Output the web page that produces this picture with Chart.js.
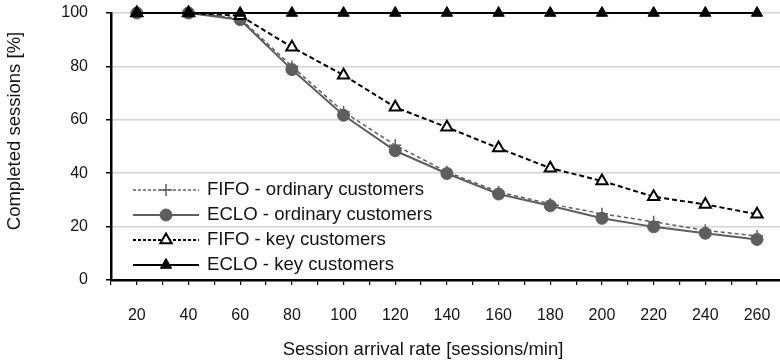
<!DOCTYPE html>
<html>
<head>
<meta charset="utf-8">
<script src="https://cdn.jsdelivr.net/npm/chart.js@4/dist/chart.umd.min.js"></script>
<style>
  html, body { margin: 0; padding: 0; background: #fff; }
  #wrap { width: 780px; height: 363px; position: relative; }
</style>
</head>
<body>
<div id="wrap"><canvas id="c" width="780" height="363"></canvas></div>
<script>
// Session arrival rates [sessions/min]
const arrivalRates = [20, 40, 60, 80, 100, 120, 140, 160, 180, 200, 220, 240, 260];

// Completed sessions [%]
const fifoOrdinary = [100, 100, 98, 80, 63, 50.5, 40.5, 33, 28.5, 24.8, 21.8, 18.6, 16.5];
const ecloOrdinary = [100, 100, 97.5, 78.8, 61.7, 48.4, 39.9, 32.2, 27.8, 23.1, 19.9, 17.5, 15.2];
const fifoKey      = [100, 100, 99, 87.2, 76.7, 64.7, 57.2, 49.4, 41.9, 37.1, 31.2, 28.3, 24.6];
const ecloKey      = [100, 100, 100, 100, 100, 100, 100, 100, 100, 100, 100, 100, 100];

const seriesNames = [
  'FIFO - ordinary customers',
  'ECLO - ordinary customers',
  'FIFO - key customers',
  'ECLO - key customers'
];

const yTicks = [0, 20, 40, 60, 80, 100];
const xTitle = 'Session arrival rate [sessions/min]';
const yTitle = 'Completed sessions [%]';

const FONT = 'Liberation Sans, Arial, Helvetica, sans-serif';
const TEXT = '#141414';
const GRAY = '#5e5e5e';

function points(vals) {
  return arrivalRates.map((r, i) => ({ x: r, y: vals[i] }));
}

const datasets = [
  {
    label: seriesNames[0], data: points(fifoOrdinary),
    borderColor: GRAY, backgroundColor: GRAY, borderWidth: 1.5, borderDash: [4, 3],
    pointStyle: 'cross', pointRadius: 6, pointBorderWidth: 1.5,
    pointBorderColor: GRAY, order: 4, legendDash: [3, 2]
  },
  {
    label: seriesNames[1], data: points(ecloOrdinary),
    borderColor: GRAY, backgroundColor: GRAY, borderWidth: 2,
    pointStyle: 'circle', pointRadius: 6, pointBorderWidth: 1,
    pointBorderColor: GRAY, pointBackgroundColor: GRAY, order: 3
  },
  {
    label: seriesNames[2], data: points(fifoKey),
    borderColor: '#000', backgroundColor: '#fff', borderWidth: 2, borderDash: [5, 3],
    pointStyle: 'triangle', pointRadius: 6.5, pointBorderWidth: 2,
    pointBorderColor: '#000', pointBackgroundColor: '#fff', order: 2, legendDash: [3, 2]
  },
  {
    label: seriesNames[3], data: points(ecloKey),
    borderColor: '#000', backgroundColor: '#000', borderWidth: 2,
    pointStyle: 'triangle', pointRadius: 6.5, pointBorderWidth: 1,
    pointBorderColor: '#000', pointBackgroundColor: '#000', order: 1
  }
];
datasets.forEach(d => { d.clip = false; d.tension = 0; d.pointHoverRadius = d.pointRadius; });

// Legend inside the plot area (lower left) plus the two axis titles
const annotations = {
  id: 'annotations',
  afterDraw(chart) {
    const ctx = chart.ctx;
    const x0 = 133, x1 = 199, tx = 207;
    const y0 = 190, dy = 25;
    ctx.save();
    chart.data.datasets.forEach((ds, i) => {
      const y = y0 + i * dy;
      ctx.beginPath();
      ctx.strokeStyle = ds.borderColor;
      ctx.lineWidth = ds.borderWidth;
      ctx.setLineDash(ds.legendDash || ds.borderDash || []);
      ctx.moveTo(x0, y);
      ctx.lineTo(x1, y);
      ctx.stroke();
      ctx.setLineDash([]);
      ctx.strokeStyle = ds.pointBorderColor;
      ctx.fillStyle = ds.pointBackgroundColor || ds.pointBorderColor;
      ctx.lineWidth = ds.pointBorderWidth;
      Chart.helpers.drawPoint(ctx, {
        pointStyle: ds.pointStyle, radius: ds.pointRadius, rotation: 0,
        borderWidth: ds.pointBorderWidth
      }, (x0 + x1) / 2, y);
      ctx.fillStyle = TEXT;
      ctx.font = '18.6px ' + FONT;
      ctx.textBaseline = 'middle';
      ctx.textAlign = 'left';
      ctx.fillText(ds.label, tx, y);
    });

    ctx.fillStyle = TEXT;
    ctx.font = '18.5px ' + FONT;
    ctx.textAlign = 'center';
    ctx.textBaseline = 'middle';
    ctx.fillText(xTitle, 423, 350);
    ctx.translate(15, 131);
    ctx.rotate(-Math.PI / 2);
    ctx.fillText(yTitle, 0, 0);
    ctx.restore();
  }
};

new Chart(document.getElementById('c'), {
  type: 'line',
  data: { datasets },
  plugins: [annotations],
  options: {
    responsive: false,
    animation: false,
    events: [],
    layout: { autoPadding: false, padding: { left: 0, right: 0, top: 13, bottom: 0 } },
    plugins: { legend: { display: false }, tooltip: { enabled: false } },
    scales: {
      x: {
        type: 'linear',
        min: 10,
        max: 268.9,
        afterFit(s) { s.height = 83; s.paddingLeft = 0; s.paddingRight = 0; },
        afterBuildTicks(s) {
          const t = [];
          for (let v = 10; v <= 260; v += 10) t.push({ value: v });
          s.ticks = t;
        },
        ticks: {
          autoSkip: false,
          maxRotation: 0,
          padding: 21,
          color: TEXT,
          font: { family: FONT, size: 16 },
          callback: v => (v % 20 === 0 && arrivalRates.includes(v)) ? String(v) : ''
        },
        grid: { drawOnChartArea: false, drawTicks: true, tickLength: 5, tickColor: '#000', lineWidth: 1.2 },
        border: { color: '#000', width: 2.5 }
      },
      y: {
        min: 0,
        max: 100,
        afterFit(s) { s.width = 111; s.paddingTop = 0; s.paddingBottom = 0; },
        afterBuildTicks(s) { s.ticks = yTicks.map(v => ({ value: v })); },
        ticks: {
          padding: 18,
          color: TEXT,
          font: { family: FONT, size: 16 }
        },
        grid: { color: '#d4d4d4', lineWidth: 1.5, drawTicks: true, tickLength: 5, tickColor: '#000' },
        border: { color: '#000', width: 2.5 }
      }
    }
  }
});
</script>
</body>
</html>
